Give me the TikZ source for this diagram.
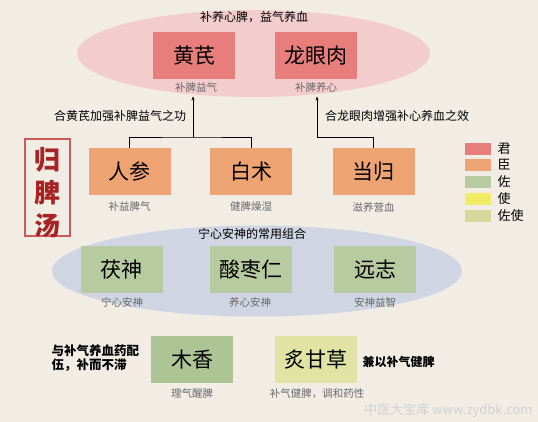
\documentclass[tikz,border=0pt]{standalone}
\usepackage{fontspec}
\setmainfont{Noto Sans CJK SC}
\usetikzlibrary{arrows.meta}
\definecolor{paper}{RGB}{241,237,228}
\definecolor{junred}{RGB}{232,126,123}
\definecolor{junpink}{RGB}{243,204,205}
\definecolor{chenorange}{RGB}{238,163,114}
\definecolor{zuogreen}{RGB}{184,203,160}
\definecolor{zuodeep}{RGB}{173,196,149}
\definecolor{shiyellow}{RGB}{240,234,100}
\definecolor{zuoshi}{RGB}{225,227,165}
\definecolor{legolive}{RGB}{212,216,152}
\definecolor{shenblue}{RGB}{207,213,226}
\definecolor{notegray}{RGB}{105,105,105}
\definecolor{titlered}{RGB}{168,36,36}
\definecolor{framered}{RGB}{205,90,90}
\tikzset{
  herb/.style={minimum width=82pt, minimum height=47pt, inner sep=0pt,
    font=\fontsize{21}{21}\selectfont},
  note/.style={font=\fontsize{10.5}{12}\selectfont, text=notegray},
  remark/.style={font=\fontsize{12}{14}\selectfont},
  swatch/.style={minimum width=26pt, minimum height=12pt, inner sep=0pt},
  legtext/.style={anchor=west, font=\fontsize{13}{13}\selectfont}
}
\begin{document}
\begin{tikzpicture}[x=1pt, y=-1pt]
  \fill[paper] (0,0) rectangle (538,422);
  \useasboundingbox (0,0) rectangle (538,422);

  \fill[junpink] (253.5,53.5) ellipse [x radius=176.5, y radius=43.5];
  \fill[shenblue] (257,271) ellipse [x radius=205, y radius=45.5];

  \node[remark] (toptitle) at (254,17) {补养心脾，益气养血};
  \node[herb, fill=junred] (huangqi) at (194,55.5) {黄芪};
  \node[herb, fill=junred] (longyanrou) at (316,55.5) {龙眼肉};
  \node[note] (hqnote) at (196,88) {补脾益气};
  \node[note] (lynote) at (316,88) {补脾养心};

  \node[herb, fill=chenorange] (renshen) at (129.5,171.5) {人参};
  \node[herb, fill=chenorange] (baizhu) at (251,171.5) {白术};
  \node[herb, fill=chenorange] (danggui) at (373.5,171.5) {当归};
  \node[note] (rsnote) at (129.5,207) {补益脾气};
  \node[note] (bznote) at (251,207) {健脾燥湿};
  \node[note] (dgnote) at (373.5,207) {滋养营血};

  \node[remark] (leftremark) at (120,116) {合黄芪加强补脾益气之功};
  \node[remark] (rightremark) at (397,116) {合龙眼肉增强补心养血之效};

  \coordinate (jleft) at (193,137);
  \coordinate (jright) at (317,137);
  \draw[line width=0.8pt] (renshen.north) |- (jleft) -| (baizhu.north);
  \draw[line width=0.8pt, -{Stealth[length=4pt,width=3pt]}] (jleft) -- (jleft |- hqnote.south);
  \draw[line width=0.8pt, -{Stealth[length=4pt,width=3pt]}] (danggui.north) |- (jright) -- (jright |- lynote.south);

  \draw[framered, line width=1.6pt] (25,139) rectangle (70,236);
  \node[text=titlered, font=\bfseries\fontsize{26}{33}\selectfont, align=center] (fangming) at (47.5,193) {归\\脾\\汤};

  \node[swatch, fill=junred] (legjun) at (478,149) {};
  \node[swatch, fill=chenorange] (legchen) at (478,165) {};
  \node[swatch, fill=zuogreen] (legzuo) at (478,182) {};
  \node[swatch, fill=shiyellow] (legshi) at (478,199) {};
  \node[swatch, fill=legolive] (legzuoshi) at (478,216) {};
  \node[legtext] at ([xshift=3pt]legjun.east) {君};
  \node[legtext] at ([xshift=3pt]legchen.east) {臣};
  \node[legtext] at ([xshift=3pt]legzuo.east) {佐};
  \node[legtext] at ([xshift=3pt]legshi.east) {使};
  \node[legtext] at ([xshift=3pt]legzuoshi.east) {佐使};

  \node[remark] (midtitle) at (252,234) {宁心安神的常用组合};
  \node[herb, fill=zuogreen] (fushen) at (121.5,269.5) {茯神};
  \node[herb, fill=zuogreen] (suanzaoren) at (250.5,269.5) {酸枣仁};
  \node[herb, fill=zuogreen] (yuanzhi) at (375,269.5) {远志};
  \node[note] (fsnote) at (122,302) {宁心安神};
  \node[note] (sznote) at (250,302) {养心安神};
  \node[note] (yznote) at (375,302) {安神益智};

  \node[herb, fill=zuodeep] (muxiang) at (192,359.5) {木香};
  \node[herb, fill=zuoshi] (zhigancao) at (316,359.5) {炙甘草};
  \node[note] (mxnote) at (192,394) {理气醒脾};
  \node[note] (gcnote) at (317,394) {补气健脾，调和药性};
  \node[remark, anchor=west, align=left, font=\bfseries\fontsize{12.5}{14}\selectfont] (mxremark) at (48,358) {与补气养血药配\\伍，补而不滞};
  \node[remark, anchor=west, font=\bfseries\fontsize{12}{14}\selectfont] (gcremark) at (359,362) {兼以补气健脾};

  \node[anchor=east, text=black!18, font=\fontsize{13}{13}\selectfont] (mark) at (536,411) {中医大宝库 www.zydbk.com};
\end{tikzpicture}
\end{document}
